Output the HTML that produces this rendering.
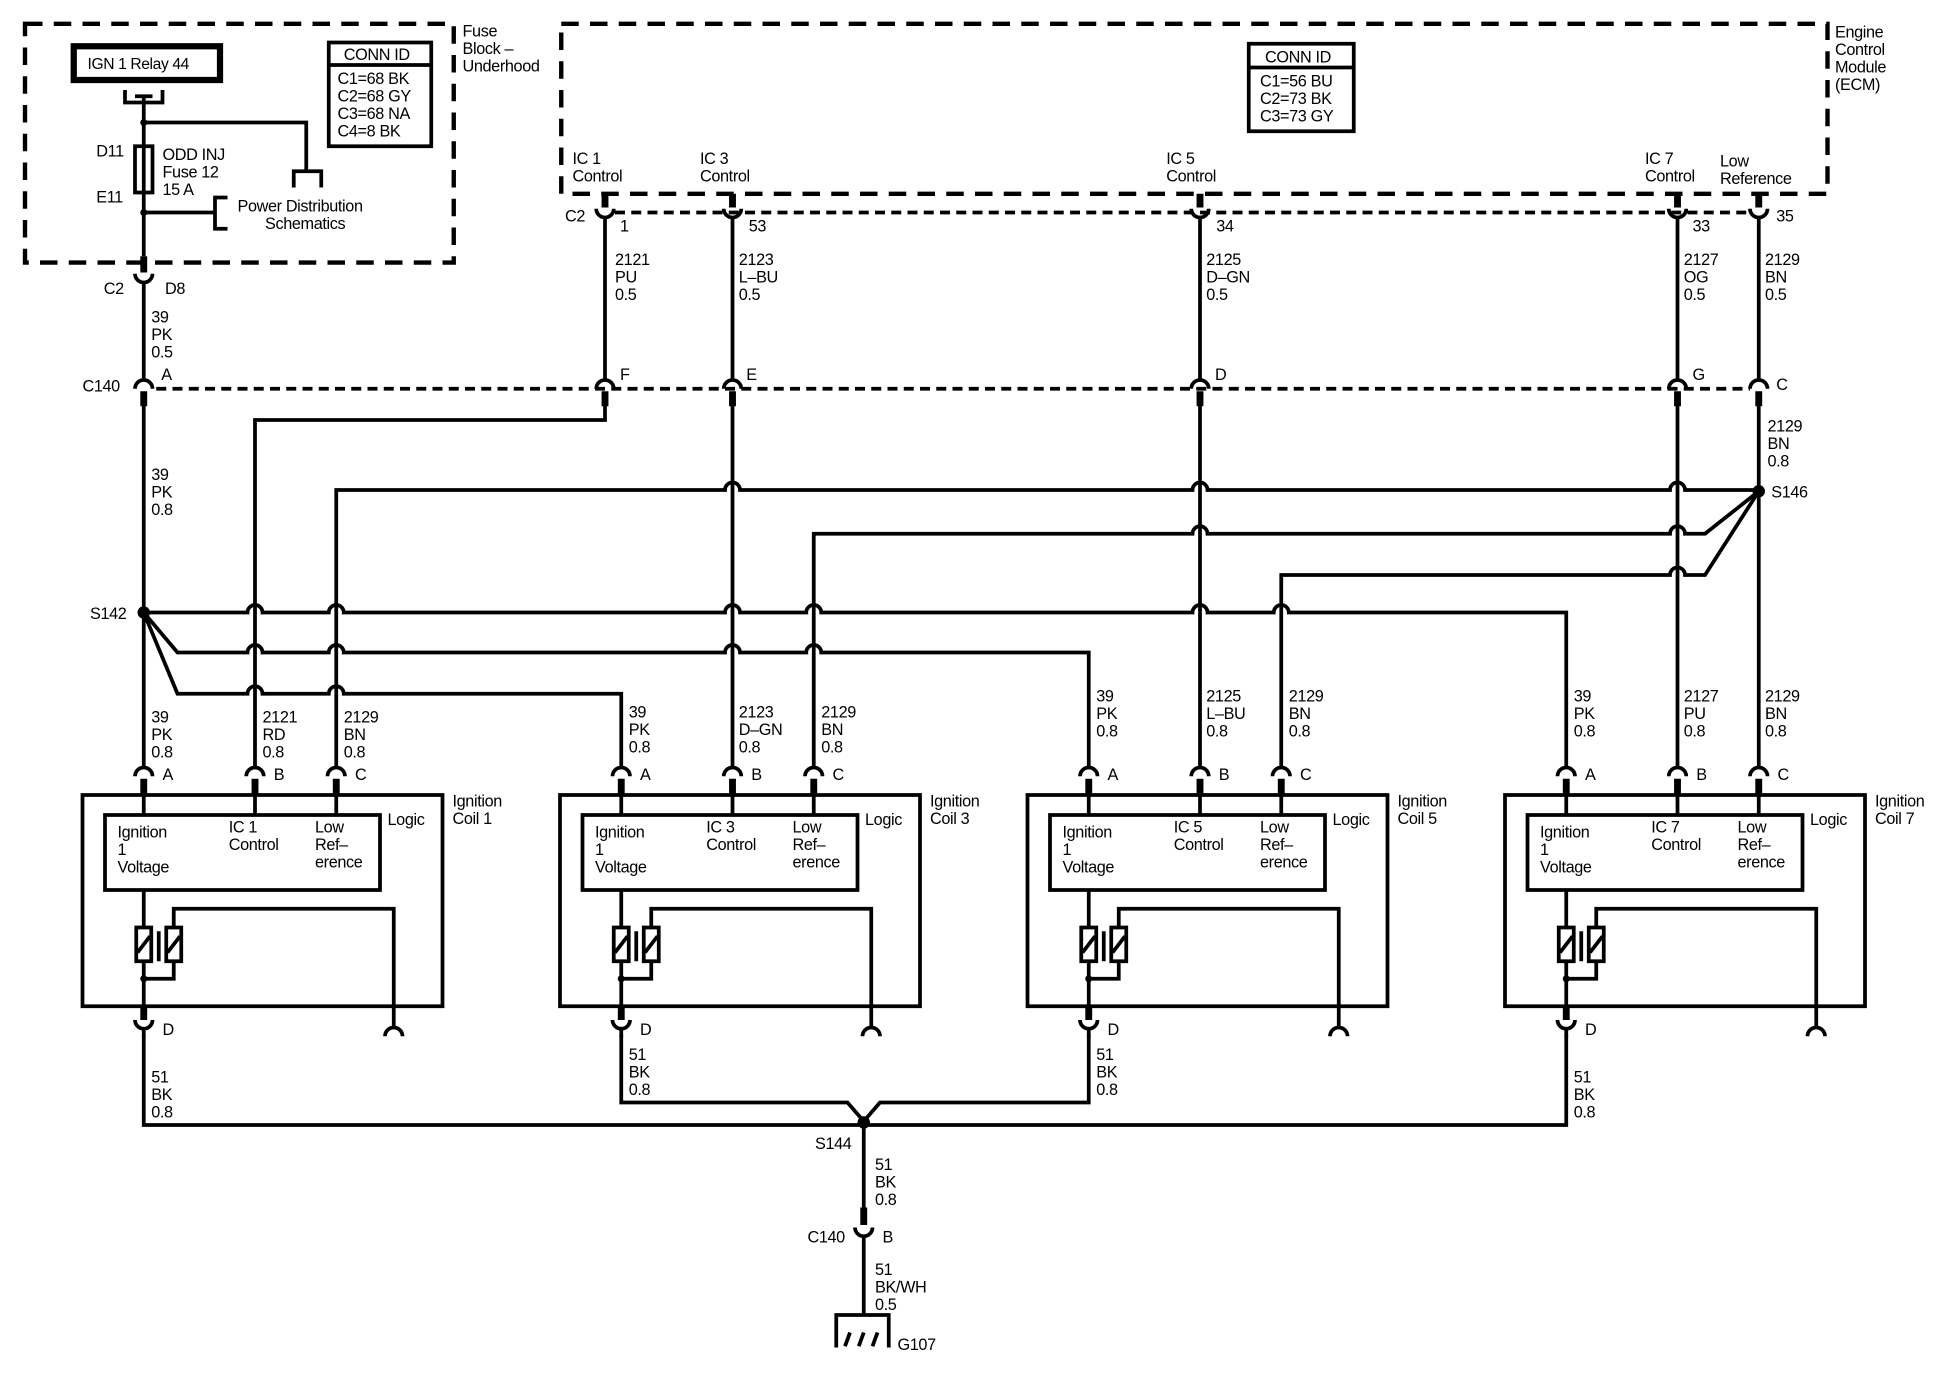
<!DOCTYPE html>
<html><head><meta charset="utf-8"><style>
html,body{margin:0;padding:0;background:#fff;}
svg{display:block;}
text{font-family:"Liberation Sans",Arial,sans-serif;font-size:13px;fill:#000;letter-spacing:-0.3px;}
.w{fill:none;stroke:#000;stroke-width:3;}
.t{fill:none;stroke:#000;stroke-width:5.5;}
.d{fill:none;stroke:#000;stroke-width:3.5;stroke-dasharray:14 9;}
.dc{fill:none;stroke:#000;stroke-width:3;stroke-dasharray:8 5;}
</style></head><body>
<svg width="1950" height="1392" viewBox="0 0 1560 1113.6" xmlns="http://www.w3.org/2000/svg">
<!-- Fuse block -->
<rect x="20" y="19" width="343" height="191" class="d"/>
<text x="370" y="29">Fuse</text><text x="370" y="43">Block –</text><text x="370" y="57">Underhood</text>
<rect x="59" y="37" width="117" height="27" fill="none" stroke="#000" stroke-width="5"/>
<text x="70" y="55" style="font-size:12.5px">IGN 1 Relay 44</text>
<path class="w" d="M100 72 L100 82 L130 82 L130 72 M108 77 L122 77"/>
<path class="w" d="M115 77 L115 205 M115 98 L245 98 L245 137 M235 150 L235 137 L257 137 L257 150 M115 170 L172 170 M182 158 L172 158 L172 183 L182 183"/>
<circle cx="115" cy="98" r="2.8"/><circle cx="115" cy="170" r="2.8"/>
<rect x="108" y="117" width="14" height="37" fill="#fff" stroke="#000" stroke-width="3"/>
<line x1="115" y1="117" x2="115" y2="154" stroke="#000" stroke-width="3"/>
<text x="77" y="125">D11</text><text x="77" y="162">E11</text>
<text x="130" y="128">ODD INJ</text><text x="130" y="142">Fuse 12</text><text x="130" y="156">15 A</text>
<text x="190" y="169">Power Distribution</text><text x="212" y="183">Schematics</text>
<rect x="263" y="34" width="82" height="83" fill="none" stroke="#000" stroke-width="3"/>
<line x1="263" y1="52" x2="345" y2="52" stroke="#000" stroke-width="3"/>
<text x="275" y="48">CONN ID</text>
<text x="270" y="67">C1=68 BK</text><text x="270" y="81">C2=68 GY</text><text x="270" y="95">C3=68 NA</text><text x="270" y="109">C4=8 BK</text>
<!-- C2 D8 -->
<path class="t" d="M115 205 L115 218"/>
<path class="w" d="M108 219 A7 7 0 0 0 122 219 M115 226 L115 304"/>
<text x="83" y="235">C2</text><text x="132" y="235">D8</text>
<text x="121" y="258">39</text><text x="121" y="272">PK</text><text x="121" y="286">0.5</text>

<!-- ECM -->
<rect x="449" y="19" width="1013" height="136" class="d"/>
<text x="1468" y="30">Engine</text><text x="1468" y="44">Control</text><text x="1468" y="58">Module</text><text x="1468" y="72">(ECM)</text>
<rect x="999" y="35" width="84" height="70" fill="none" stroke="#000" stroke-width="3"/>
<line x1="999" y1="54" x2="1083" y2="54" stroke="#000" stroke-width="3"/>
<text x="1012" y="50">CONN ID</text>
<text x="1008" y="69">C1=56 BU</text><text x="1008" y="83">C2=73 BK</text><text x="1008" y="97">C3=73 GY</text>
<text x="458" y="131">IC 1</text><text x="458" y="145">Control</text>
<text x="560" y="131">IC 3</text><text x="560" y="145">Control</text>
<text x="933" y="131">IC 5</text><text x="933" y="145">Control</text>
<text x="1316" y="131">IC 7</text><text x="1316" y="145">Control</text>
<text x="1376" y="133">Low</text><text x="1376" y="147">Reference</text>

<!-- C2 row -->
<path class="dc" d="M492 170 L1399 170"/>
<g>
<path class="t" d="M484 155 L484 166 M586 155 L586 166 M960 155 L960 166 M1342 155 L1342 166 M1407 155 L1407 166"/>
<path class="w" d="M477 167 A7 7 0 0 0 491 167 M579 167 A7 7 0 0 0 593 167 M953 167 A7 7 0 0 0 967 167 M1335 167 A7 7 0 0 0 1349 167 M1400 167 A7 7 0 0 0 1414 167"/>
</g>
<text x="452" y="177">C2</text>
<text x="496" y="185">1</text><text x="599" y="185">53</text><text x="973" y="185">34</text><text x="1354" y="185">33</text><text x="1421" y="177">35</text>
<text x="492" y="212">2121</text><text x="492" y="226">PU</text><text x="492" y="240">0.5</text>
<text x="591" y="212">2123</text><text x="591" y="226">L–BU</text><text x="591" y="240">0.5</text>
<text x="965" y="212">2125</text><text x="965" y="226">D–GN</text><text x="965" y="240">0.5</text>
<text x="1347" y="212">2127</text><text x="1347" y="226">OG</text><text x="1347" y="240">0.5</text>
<text x="1412" y="212">2129</text><text x="1412" y="226">BN</text><text x="1412" y="240">0.5</text>
<path class="w" d="M484 174 L484 304 M586 174 L586 304 M960 174 L960 304 M1342 174 L1342 304 M1407 174 L1407 304"/>

<!-- C140 row -->
<path class="dc" d="M125 311 L1400 311"/>
<path class="w" d="M108 311 A7 7 0 0 1 122 311 M477 311 A7 7 0 0 1 491 311 M579 311 A7 7 0 0 1 593 311 M953 311 A7 7 0 0 1 967 311 M1335 311 A7 7 0 0 1 1349 311 M1400 311 A7 7 0 0 1 1414 311"/>
<path class="t" d="M115 313 L115 325 M484 313 L484 325 M586 313 L586 325 M960 313 L960 325 M1342 313 L1342 325 M1407 313 L1407 325"/>
<text x="66" y="313">C140</text><text x="129" y="304">A</text>
<text x="496" y="304">F</text><text x="597" y="304">E</text><text x="972" y="304">D</text><text x="1354" y="304">G</text><text x="1421" y="312">C</text>
<text x="121" y="384">39</text><text x="121" y="398">PK</text><text x="121" y="412">0.8</text>
<text x="1414" y="345">2129</text><text x="1414" y="359">BN</text><text x="1414" y="373">0.8</text>
<text x="1417" y="398">S146</text><text x="72" y="495">S142</text>

<!-- wiring -->
<path class="w" d="M115 324 L115 614 M586 324 L586 614 M960 324 L960 614 M1342 324 L1342 614 M1407 324 L1407 614"/>
<path class="w" d="M484 324 L484 336 L204 336 L204 614"/>
<path class="w" d="M269 614 L269 392 L580 392 A6 6 0 0 1 592 392 L954 392 A6 6 0 0 1 966 392 L1336 392 A6 6 0 0 1 1348 392 L1407 392"/>
<path class="w" d="M651 614 L651 427 L954 427 A6 6 0 0 1 966 427 L1336 427 A6 6 0 0 1 1348 427 L1364 427 L1407 393"/>
<path class="w" d="M1025 614 L1025 460 L1336 460 A6 6 0 0 1 1348 460 L1364 460 L1407 393"/>
<path class="w" d="M115 490 L198 490 A6 6 0 0 1 210 490 L263 490 A6 6 0 0 1 275 490 L580 490 A6 6 0 0 1 592 490 L645 490 A6 6 0 0 1 657 490 L954 490 A6 6 0 0 1 966 490 L1019 490 A6 6 0 0 1 1031 490 L1253 490 L1253 614"/>
<path class="w" d="M115 490 L142 522 L198 522 A6 6 0 0 1 210 522 L263 522 A6 6 0 0 1 275 522 L580 522 A6 6 0 0 1 592 522 L645 522 A6 6 0 0 1 657 522 L871 522 L871 614"/>
<path class="w" d="M115 490 L142 555 L198 555 A6 6 0 0 1 210 555 L263 555 A6 6 0 0 1 275 555 L497 555 L497 614"/>
<circle cx="115" cy="490" r="5"/><circle cx="1407" cy="393" r="5"/>

<!-- coil wire labels -->
<text x="121" y="578">39</text><text x="121" y="592">PK</text><text x="121" y="606">0.8</text>
<text x="210" y="578">2121</text><text x="210" y="592">RD</text><text x="210" y="606">0.8</text>
<text x="275" y="578">2129</text><text x="275" y="592">BN</text><text x="275" y="606">0.8</text>
<text x="503" y="574">39</text><text x="503" y="588">PK</text><text x="503" y="602">0.8</text>
<text x="591" y="574">2123</text><text x="591" y="588">D–GN</text><text x="591" y="602">0.8</text>
<text x="657" y="574">2129</text><text x="657" y="588">BN</text><text x="657" y="602">0.8</text>
<text x="877" y="561">39</text><text x="877" y="575">PK</text><text x="877" y="589">0.8</text>
<text x="965" y="561">2125</text><text x="965" y="575">L–BU</text><text x="965" y="589">0.8</text>
<text x="1031" y="561">2129</text><text x="1031" y="575">BN</text><text x="1031" y="589">0.8</text>
<text x="1259" y="561">39</text><text x="1259" y="575">PK</text><text x="1259" y="589">0.8</text>
<text x="1347" y="561">2127</text><text x="1347" y="575">PU</text><text x="1347" y="589">0.8</text>
<text x="1412" y="561">2129</text><text x="1412" y="575">BN</text><text x="1412" y="589">0.8</text>

<!-- coil shape template -->
<defs>
<g id="coil">
<rect x="0" y="636" width="288" height="169" fill="none" stroke="#000" stroke-width="3"/>
<rect x="18" y="652" width="220" height="60" fill="none" stroke="#000" stroke-width="3"/>
<path class="w" d="M42 621 A7 7 0 0 1 56 621 M131 621 A7 7 0 0 1 145 621 M196 621 A7 7 0 0 1 210 621"/>
<path class="t" d="M49 623 L49 636 M138 623 L138 636 M203 623 L203 636"/>
<path class="w" d="M49 636 L49 652 M138 636 L138 652 M203 636 L203 652"/>
<path class="w" d="M49 712 L49 805 M61 745 L61 769 M73 742 L73 727 L249 727 L249 821 M49 783 L73 783 L73 769"/>
<rect x="43" y="742" width="12" height="27" fill="#fff" stroke="#000" stroke-width="3"/>
<rect x="67" y="742" width="12" height="27" fill="#fff" stroke="#000" stroke-width="3"/>
<path class="w" d="M44 762 L54 749 M68 762 L78 749"/>
<circle cx="49" cy="783" r="2.8"/>
<path class="t" d="M49 805 L49 816"/>
<path class="w" d="M42 816 A7 7 0 0 0 56 816 M49 823 L49 830 M242 829 A7 7 0 0 1 256 829"/>
</g>
</defs>
<use href="#coil" x="66"/><use href="#coil" x="448"/><use href="#coil" x="822"/><use href="#coil" x="1204"/>

<!-- coil texts -->
<g>
<text x="130" y="624">A</text><text x="219" y="624">B</text><text x="284" y="624">C</text>
<text x="94" y="670">Ignition</text><text x="94" y="684">1</text><text x="94" y="698">Voltage</text>
<text x="183" y="666">IC 1</text><text x="183" y="680">Control</text>
<text x="252" y="666">Low</text><text x="252" y="680">Ref–</text><text x="252" y="694">erence</text>
<text x="310" y="660">Logic</text><text x="362" y="645">Ignition</text><text x="362" y="659">Coil 1</text>
<text x="130" y="828">D</text>
</g>
<g>
<text x="512" y="624">A</text><text x="601" y="624">B</text><text x="666" y="624">C</text>
<text x="476" y="670">Ignition</text><text x="476" y="684">1</text><text x="476" y="698">Voltage</text>
<text x="565" y="666">IC 3</text><text x="565" y="680">Control</text>
<text x="634" y="666">Low</text><text x="634" y="680">Ref–</text><text x="634" y="694">erence</text>
<text x="692" y="660">Logic</text><text x="744" y="645">Ignition</text><text x="744" y="659">Coil 3</text>
<text x="512" y="828">D</text>
</g>
<g>
<text x="886" y="624">A</text><text x="975" y="624">B</text><text x="1040" y="624">C</text>
<text x="850" y="670">Ignition</text><text x="850" y="684">1</text><text x="850" y="698">Voltage</text>
<text x="939" y="666">IC 5</text><text x="939" y="680">Control</text>
<text x="1008" y="666">Low</text><text x="1008" y="680">Ref–</text><text x="1008" y="694">erence</text>
<text x="1066" y="660">Logic</text><text x="1118" y="645">Ignition</text><text x="1118" y="659">Coil 5</text>
<text x="886" y="828">D</text>
</g>
<g>
<text x="1268" y="624">A</text><text x="1357" y="624">B</text><text x="1422" y="624">C</text>
<text x="1232" y="670">Ignition</text><text x="1232" y="684">1</text><text x="1232" y="698">Voltage</text>
<text x="1321" y="666">IC 7</text><text x="1321" y="680">Control</text>
<text x="1390" y="666">Low</text><text x="1390" y="680">Ref–</text><text x="1390" y="694">erence</text>
<text x="1448" y="660">Logic</text><text x="1500" y="645">Ignition</text><text x="1500" y="659">Coil 7</text>
<text x="1268" y="828">D</text>
</g>

<!-- ground side -->
<path class="w" d="M115 828 L115 900 L1253 900 L1253 828"/>
<path class="w" d="M497 828 L497 882 L678 882 L691 897 L704 882 L871 882 L871 828"/>
<circle cx="691" cy="898" r="5"/>
<text x="121" y="866">51</text><text x="121" y="880">BK</text><text x="121" y="894">0.8</text>
<text x="503" y="848">51</text><text x="503" y="862">BK</text><text x="503" y="876">0.8</text>
<text x="877" y="848">51</text><text x="877" y="862">BK</text><text x="877" y="876">0.8</text>
<text x="1259" y="866">51</text><text x="1259" y="880">BK</text><text x="1259" y="894">0.8</text>
<text x="652" y="919">S144</text>
<text x="700" y="936">51</text><text x="700" y="950">BK</text><text x="700" y="964">0.8</text>
<path class="w" d="M691 898 L691 970"/>
<path class="t" d="M691 966 L691 980"/>
<path class="w" d="M684 982 A7 7 0 0 0 698 982 M691 989 L691 1052"/>
<text x="646" y="994">C140</text><text x="706" y="994">B</text>
<text x="700" y="1020">51</text><text x="700" y="1034">BK/WH</text><text x="700" y="1048">0.5</text>
<path class="w" d="M669 1078 L669 1052 L711 1052 L711 1078"/>
<path class="w" d="M676 1077 L680 1066 M687 1077 L691 1066 M698 1077 L702 1066"/>
<text x="718" y="1080">G107</text>
</svg>
</body></html>
